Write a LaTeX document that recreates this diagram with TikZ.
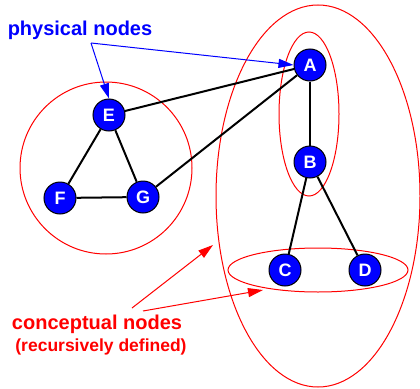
\documentclass[tikz,border=0pt]{standalone}
\usepackage{fontspec}
\setmainfont{Liberation Sans}
\usetikzlibrary{arrows.meta}
\begin{document}
\begin{tikzpicture}[x=1pt,y=-1pt,
  pnode/.style={circle,draw=black,line width=1pt,fill=blue,minimum size=32pt,inner sep=0pt,text=white,font=\bfseries\fontsize{18}{18}\selectfont},
  edge/.style={line width=2pt,black},
  grp/.style={draw=red,line width=1pt},
  barrow/.style={blue,line width=1pt,-{Triangle[length=15pt,width=9pt]}},
  rarrow/.style={red,line width=1pt,-{Triangle[length=15pt,width=9pt]}}]
\useasboundingbox (0,0) rectangle (420,388);
% groups
\draw[grp] (106,168) circle (86);
\draw[grp] (318,196) ellipse (102 and 191);
\draw[grp] (309,114) ellipse (30 and 82);
\draw[grp] (318,270) ellipse (90 and 22);
% nodes
\node[pnode] (A) at (310,65) {A};
\node[pnode] (B) at (310,162) {B};
\node[pnode] (C) at (285,270) {C};
\node[pnode] (D) at (365,270) {D};
\node[pnode] (E) at (109,115) {E};
\node[pnode] (F) at (60,198) {F};
\node[pnode] (G) at (143,197) {G};
% edges
\draw[edge] (E) -- (A);
\draw[edge] (G) -- (A);
\draw[edge] (E) -- (F);
\draw[edge] (E) -- (G);
\draw[edge] (F) -- (G);
\draw[edge] (A) -- (B);
\draw[edge] (B) -- (C);
\draw[edge] (B) -- (D);
% labels
\node[text=blue,font=\bfseries\fontsize{20}{20}\selectfont] (phys) at (80,30) {physical nodes};
\coordinate (pj) at (91,43);
\draw[barrow] (pj) -- (E.north);
\draw[barrow] (pj) -- (A.west);
\node[text=red,font=\bfseries\fontsize{20}{20}\selectfont] (conc) at (97,324) {conceptual nodes};
\node[text=red,font=\bfseries\fontsize{17.5}{17.5}\selectfont] (rec) at (101,347) {(recursively defined)};
\coordinate (r1) at (132,308);
\coordinate (r2) at (143,311);
\coordinate (t1) at (213,245);
\coordinate (t2) at (263,290);
\draw[rarrow] (r1) -- (t1);
\draw[rarrow] (r2) -- (t2);
\end{tikzpicture}
\end{document}
